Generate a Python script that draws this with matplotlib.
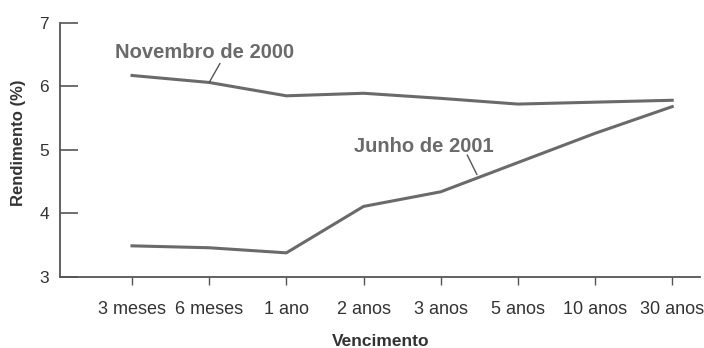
import matplotlib
matplotlib.use("Agg")
import matplotlib.pyplot as plt

plt.rcParams['font.family'] = ['Liberation Sans', 'DejaVu Sans']

maturities = ['3 meses', '6 meses', '1 ano', '2 anos', '3 anos', '5 anos', '10 anos', '30 anos']
nov_2000 = [6.17, 6.06, 5.85, 5.89, 5.81, 5.72, 5.75, 5.78]
jun_2001 = [3.49, 3.46, 3.38, 4.11, 4.34, 4.80, 5.26, 5.68]

line_color = '#6a6a6a'
text_color = '#333333'

fig = plt.figure(figsize=(7.04, 3.48), dpi=100)
ax = fig.add_axes([60 / 704, 1 - 277 / 348, 640 / 704, (277 - 22.7) / 348])

x = list(range(len(maturities)))
ax.plot(x, nov_2000, color=line_color, lw=2.2, solid_joinstyle='round')
ax.plot(x, jun_2001, color=line_color, lw=2.2, solid_joinstyle='round')

ax.set_xlim(-0.933, 7.36)
ax.set_ylim(3, 7)
ax.set_yticks([3, 4, 5, 6, 7])
ax.set_xticks(x)
ax.set_xticklabels(maturities)

for side in ['top', 'right']:
    ax.spines[side].set_visible(False)
for side in ['left', 'bottom']:
    ax.spines[side].set_color('#555555')
    ax.spines[side].set_linewidth(1.3)

ax.tick_params(axis='y', direction='in', length=13, width=1.2, color='#555555',
               labelsize=12.5, labelcolor=text_color, pad=8)
ax.tick_params(axis='x', direction='out', length=6, width=1.0, color='#555555',
               labelsize=13, labelcolor=text_color, pad=11)

fig.text(19 / 704, 1 - 143 / 348, 'Rendimento (%)', fontsize=12, fontweight='bold',
         color=text_color, ha='center', va='center', rotation=90)
fig.text(381 / 704, 1 - 341 / 348, 'Vencimento', fontsize=12.5, fontweight='bold',
         color=text_color, ha='center', va='center')

# series labels with leader lines
ax.text(0.946, 6.535, 'Novembro de 2000', fontsize=14.5, fontweight='bold',
        color='#6a6a6a', ha='center', va='center')
ax.annotate('', xy=(1.0, nov_2000[1]), xytext=(1.14, 6.36),
            arrowprops=dict(arrowstyle='-', color='#555555', lw=1.0, shrinkA=0, shrinkB=0))
ax.text(3.785, 5.05, 'Junho de 2001', fontsize=14.5, fontweight='bold',
        color='#6a6a6a', ha='center', va='center')
ax.annotate('', xy=(4.47, 4.61), xytext=(4.343, 4.92),
            arrowprops=dict(arrowstyle='-', color='#555555', lw=1.0, shrinkA=0, shrinkB=0))

fig.savefig('out.png', dpi=100)
